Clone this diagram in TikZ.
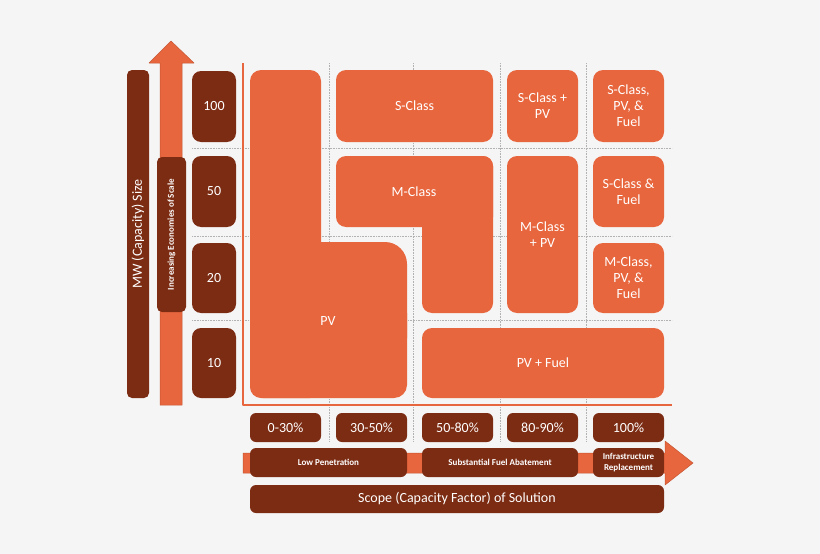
\documentclass[tikz,border=0pt]{standalone}
\usepackage{fontspec}
\setmainfont{Carlito}
\definecolor{orng}{RGB}{232,102,61}
\definecolor{brwn}{RGB}{124,44,19}
\definecolor{bgcol}{RGB}{245,245,245}
\begin{document}
\begin{tikzpicture}[x=1pt, y=-1pt, font=\fontsize{14}{16}\selectfont, line join=round,
		dbox/.style={fill=brwn, text=white, rounded corners=9pt, inner sep=0pt, align=center},
		obox/.style={fill=orng, text=white, rounded corners=10pt, inner sep=0pt, align=center},
		small/.style={font=\fontsize{9}{11}\selectfont\bfseries},
		gridline/.style={gray!60, densely dotted, line width=0.6pt}]
	\fill[bgcol] (0,0) rectangle (820,554);
	\useasboundingbox (0,0) rectangle (820,554);
	% grid and axes
	\foreach \y in {148,236,320} \draw[gridline] (192,\y) -- (672,\y);
	\foreach \x in {329,413,500,586} \draw[gridline] (\x,63) -- (\x,442);
	\draw[orng, line width=1.2pt] (243,63) -- (243,405) -- (672,405);
	% arrows
	\filldraw[fill=orng, draw=orng!85!black, line width=0.5pt] (160,405) -- (160,63) -- (149,63) -- (171,41) -- (194,63) -- (182,63) -- (182,405) -- cycle;
	\filldraw[fill=orng, draw=orng!85!black, line width=0.5pt] (243,453) -- (665,453) -- (665,441) -- (693,463) -- (665,485) -- (665,473) -- (243,473) -- cycle;
	% size axis
	\node[dbox, rotate=90, minimum width=328pt, minimum height=22pt, rounded corners=5pt] (mw) at (138,234) {MW (Capacity) Size};
	\node[dbox, small, rotate=90, minimum width=155pt, minimum height=29pt, rounded corners=5pt] (scale) at (171.5,234.5) {Increasing Economies of Scale};
	\node[dbox, minimum width=44pt, minimum height=71pt] (n100) at (214,106.5) {100};
	\node[dbox, minimum width=44pt, minimum height=71pt] (n50) at (214,191.5) {50};
	\node[dbox, minimum width=44pt, minimum height=70pt] (n20) at (214,278) {20};
	\node[dbox, minimum width=44pt, minimum height=70pt] (n10) at (214,363) {10};
	% scope axis
	\node[dbox, minimum width=71pt, minimum height=29pt, rounded corners=6pt] (p1) at (285.5,427.5) {0-30\%};
	\node[dbox, minimum width=71pt, minimum height=29pt, rounded corners=6pt] (p2) at (371.5,427.5) {30-50\%};
	\node[dbox, minimum width=71pt, minimum height=29pt, rounded corners=6pt] (p3) at (457.5,427.5) {50-80\%};
	\node[dbox, minimum width=71pt, minimum height=29pt, rounded corners=6pt] (p4) at (542.5,427.5) {80-90\%};
	\node[dbox, minimum width=71pt, minimum height=29pt, rounded corners=6pt] (p5) at (628.5,427.5) {100\%};
	\node[dbox, small, minimum width=157pt, minimum height=29pt, rounded corners=6pt] (low) at (328.5,462.5) {Low Penetration};
	\node[dbox, small, minimum width=156pt, minimum height=29pt, rounded corners=6pt] (abate) at (500,462.5) {Substantial Fuel Abatement};
	\node[dbox, small, minimum width=71pt, minimum height=29pt, rounded corners=6pt] (infra) at (628.5,462.5) {Infrastructure\\Replacement};
	\node[dbox, minimum width=414pt, minimum height=28pt, rounded corners=6pt] (scope) at (457,499) {Scope (Capacity Factor) of Solution};
	% PV block
	\fill[orng, rounded corners=11pt] (250,70) rectangle (321,398);
	\fill[orng, rounded corners=22pt] (250,242) rectangle (407,360);
	\fill[orng, rounded corners=13pt] (250,300) rectangle (407,398);
	\node[text=white] (pv) at (328,321) {PV};
	% M-Class block
	\fill[orng, rounded corners=10pt] (336,156) rectangle (493,227);
	\fill[orng, rounded corners=10pt] (422,156) rectangle (493,313);
	\node[text=white] (mc) at (414,192) {M-Class};
	% other blocks
	\node[obox, minimum width=157pt, minimum height=72pt] (sc) at (414.5,106) {S-Class};
	\node[obox, minimum width=71pt, minimum height=72pt] (scpv) at (542.5,106) {S-Class +\\PV};
	\node[obox, minimum width=71pt, minimum height=72pt] (scpvf) at (628.5,106) {S-Class,\\PV, \&\\Fuel};
	\node[obox, minimum width=71pt, minimum height=157pt] (mcpv) at (542.5,234.5) {M-Class\\+ PV};
	\node[obox, minimum width=71pt, minimum height=71pt] (scf) at (628.5,191.5) {S-Class \&\\Fuel};
	\node[obox, minimum width=71pt, minimum height=70pt] (mcpvf) at (628.5,278) {M-Class,\\PV, \&\\Fuel};
	\node[obox, minimum width=242pt, minimum height=70pt] (pvf) at (543,363) {PV + Fuel};
\end{tikzpicture}
\end{document}
